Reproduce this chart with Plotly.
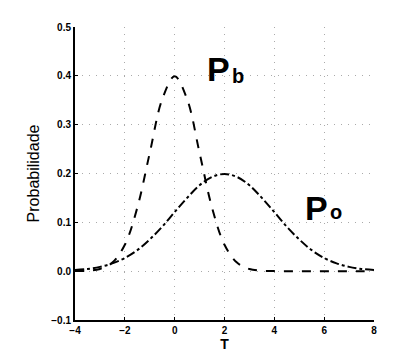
import plotly.graph_objects as go

# values
t_vals = [-4.0, -3.5, -3.0, -2.5, -2.0, -1.5, -1.0, -0.5, 0.0, 0.5, 1.0, 1.5, 2.0,
          2.5, 3.0, 3.5, 4.0, 4.5, 5.0, 5.5, 6.0, 6.5, 7.0, 7.5, 8.0]
pb_vals = [0.0001, 0.0009, 0.0044, 0.0175, 0.054, 0.130, 0.242, 0.352, 0.399, 0.352, 0.242,
           0.130, 0.054, 0.0175, 0.0044, 0.0009, 0.0001, 0.0, 0.0, 0.0, 0.0, 0.0, 0.0, 0.0, 0.0]
po_vals = [0.0022, 0.0045, 0.0088, 0.016, 0.027, 0.043, 0.065, 0.091, 0.121, 0.150, 0.176,
           0.193, 0.199, 0.193, 0.176, 0.150, 0.121, 0.091, 0.065, 0.043, 0.027, 0.016,
           0.0088, 0.0045, 0.0022]
x_ticks = [-4, -2, 0, 2, 4, 6, 8]
y_ticks = [-0.1, 0.0, 0.1, 0.2, 0.3, 0.4, 0.5]
y_tick_text = ["\u22120.1", "0.0", "0.1", "0.2", "0.3", "0.4", "0.5"]

fig = go.Figure()
fig.add_trace(go.Scatter(x=t_vals, y=pb_vals, mode="lines",
                         line=dict(color="black", width=2, dash="dash", shape="spline"),
                         showlegend=False))
fig.add_trace(go.Scatter(x=t_vals, y=po_vals, mode="lines",
                         line=dict(color="black", width=2, dash="dashdot", shape="spline"),
                         showlegend=False))

big = dict(family="Liberation Sans, Arial", size=34, color="black", weight="bold")
small = dict(family="Liberation Sans, Arial", size=20, color="black", weight="bold")
fig.add_annotation(x=1.25, y=0.415, xref="x", yref="y", xanchor="left", yanchor="middle",
                   text="P", showarrow=False, font=big, borderpad=0)
fig.add_annotation(x=2.25, y=0.40, xref="x", yref="y", xanchor="left", yanchor="middle",
                   text="b", showarrow=False, font=small, borderpad=0)
fig.add_annotation(x=5.2, y=0.13, xref="x", yref="y", xanchor="left", yanchor="middle",
                   text="P", showarrow=False, font=big, borderpad=0)
fig.add_annotation(x=6.2, y=0.121, xref="x", yref="y", xanchor="left", yanchor="middle",
                   text="o", showarrow=False, font=small, borderpad=0)

axis_common = dict(showgrid=True, gridcolor="#aaaaaa", griddash="1px,6px", gridwidth=1,
                   zeroline=False, showline=True, linecolor="black", linewidth=2,
                   ticks="inside", ticklen=3, tickcolor="black",
                   tickfont=dict(family="Liberation Sans, Arial", size=10, color="black",
                                 weight="bold"))

fig.update_xaxes(range=[-4, 8], tickvals=x_ticks,
                 ticktext=[str(v).replace("-", "\u2212") for v in x_ticks],
                 title=dict(text="T", standoff=2,
                            font=dict(family="Liberation Sans, Arial", size=14, color="black",
                                      weight="bold")),
                 **axis_common)
fig.update_yaxes(range=[-0.1, 0.5], tickvals=y_ticks, ticktext=y_tick_text,
                 title=dict(text="Probabilidade", standoff=8,
                            font=dict(family="Liberation Sans, Arial", size=16, color="black")),
                 **axis_common)

fig.update_layout(width=409, height=360, margin=dict(l=75, r=35, t=27, b=38),
                  paper_bgcolor="white", plot_bgcolor="white")

fig.write_html("out.html")
